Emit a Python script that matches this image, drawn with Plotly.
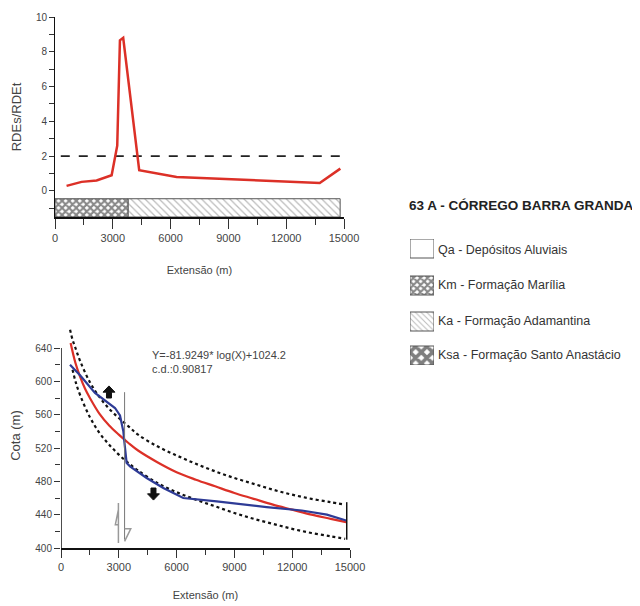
import plotly.graph_objects as go

# --- top panel: RDEs/RDEt along the channel
ext_rde = [600, 1380, 2160, 2940, 3230, 3370, 3540, 4370, 6310, 13740, 14810]
rde_ratio = [0.29, 0.52, 0.60, 0.90, 2.6, 8.66, 8.8, 1.19, 0.80, 0.46, 1.28]
threshold = 2
threshold_span = [300, 15000]

geo_units = ["Km", "Ka"]
geo_start = [0, 3800]
geo_end = [3800, 14800]

# --- bottom panel: longitudinal profile
ext_prof = [467, 1000, 1764, 2500, 2803, 3062, 3235, 3300, 3408, 3581, 4446,
            5311, 6347, 8079, 10675, 12500, 13800, 14800]
cota_prof = [620, 607, 586, 574, 568, 559, 540, 525, 502, 498, 484,
             472, 460, 456, 449, 445, 440, 433]

ext_fit = [500, 750, 1000, 1250, 1500, 2000, 2500, 3000, 3500, 4000, 5000,
           6000, 7000, 8000, 9000, 10000, 11000, 12000, 13000, 14000, 14800]
cota_fit = [646, 622, 605, 591, 580, 561, 547, 536, 526, 517, 503,
            491, 482, 474, 466, 459, 452, 446, 440, 435, 431]

ext_up = [470, 600, 750, 1000, 1500, 2000, 2500, 3000, 3500, 4000, 5000,
          6000, 7000, 8000, 9000, 10000, 11000, 12000, 13000, 14000, 14750]
cota_up = [662, 650, 640, 624, 599, 581, 567, 556, 546, 536, 522,
           511, 501, 492, 484, 477, 470, 464, 459, 455, 452]

ext_low = [600, 750, 1000, 1500, 2000, 2500, 3000, 3500, 4000, 5000,
           6000, 7000, 8000, 9000, 10000, 11000, 12000, 13000, 14000, 14750]
cota_low = [614, 600, 583, 557, 538, 524, 512, 502, 493, 478,
            467, 458, 450, 442, 435, 429, 423, 418, 414, 411]

fault_x = 3300
fault_cota = [410, 587]
end_x = 14830
end_cota = [410, 455]

legend_labels = ["Qa - Depósitos Aluviais", "Km - Formação Marília",
                 "Ka - Formação Adamantina", "Ksa - Formação Santo Anastácio"]

FONT = "Arial, Liberation Sans, sans-serif"
RED = "#dc3027"
BLUE = "#2e3b96"

# the page body adds an 8px margin, so size the figure to fit the window
W, H, OFF = 632, 598, 8


def px(x):
    return (x - OFF) / W


def py(y):
    return 1 - (y - OFF) / H


fig = go.Figure()

# geology strip under the RDE curve
patterns = {
    "Km": dict(shape="x", fgcolor="#111", bgcolor="white", size=5, solidity=0.65),
    "Ka": dict(shape="\\", fgcolor="#777", bgcolor="white", size=5, solidity=0.25),
}
for u, s, e in zip(geo_units, geo_start, geo_end):
    fig.add_trace(go.Bar(
        y=[-0.975], x=[e - s], base=[s], orientation="h", width=1.05,
        marker=dict(color="white", line=dict(color="#555", width=1), pattern=patterns[u]),
        xaxis="x", yaxis="y", showlegend=False, hoverinfo="skip"
    ))

fig.add_trace(go.Scatter(
    x=threshold_span, y=[threshold, threshold], mode="lines",
    line=dict(color="#222", width=1.6, dash="dash"),
    xaxis="x", yaxis="y", showlegend=False
))
fig.add_trace(go.Scatter(
    x=ext_rde, y=rde_ratio, mode="lines",
    line=dict(color=RED, width=2.5),
    xaxis="x", yaxis="y", showlegend=False
))

# profile panel
for xs, ys in [(ext_up, cota_up), (ext_low, cota_low)]:
    fig.add_trace(go.Scatter(
        x=xs, y=ys, mode="lines", line=dict(color="#111", width=2.2, dash="dot"),
        line_shape="spline", xaxis="x2", yaxis="y2", showlegend=False
    ))
fig.add_trace(go.Scatter(
    x=ext_fit, y=cota_fit, mode="lines", line=dict(color=RED, width=2.2),
    line_shape="spline", xaxis="x2", yaxis="y2", showlegend=False
))
fig.add_trace(go.Scatter(
    x=ext_prof, y=cota_prof, mode="lines", line=dict(color=BLUE, width=2.2),
    xaxis="x2", yaxis="y2", showlegend=False
))
fig.add_trace(go.Scatter(
    x=[fault_x, fault_x], y=fault_cota, mode="lines", line=dict(color="#777", width=1),
    xaxis="x2", yaxis="y2", showlegend=False
))
fig.add_trace(go.Scatter(
    x=[end_x, end_x], y=end_cota, mode="lines", line=dict(color="#111", width=1.5),
    xaxis="x2", yaxis="y2", showlegend=False
))
# y axis line of profile only up to 640
fig.add_trace(go.Scatter(
    x=[0, 0], y=[400, 640], mode="lines", line=dict(color="#111", width=1.5),
    xaxis="x2", yaxis="y2", showlegend=False, cliponaxis=False
))

# legend swatches (own hidden axis, pixel-like units)
sw_pat = [
    None,
    dict(shape="x", fgcolor="#111", bgcolor="white", size=5, solidity=0.65),
    dict(shape="\\", fgcolor="#777", bgcolor="white", size=4, solidity=0.25),
    dict(shape="x", fgcolor="#000", bgcolor="white", size=8, solidity=0.7),
]
sw_top = [0, 37, 73, 107]
for top, pat in zip(sw_top, sw_pat):
    fig.add_trace(go.Scatter(
        x=[0, 24, 24, 0, 0], y=[top, top, top + 19, top + 19, top],
        mode="lines", fill="toself", fillcolor="white",
        fillpattern=pat if pat else None,
        line=dict(color="#555", width=1),
        xaxis="x3", yaxis="y3", showlegend=False, hoverinfo="skip"
    ))

tick_font = dict(family=FONT, size=10, color="#444")
xtick_font = dict(family=FONT, size=11, color="#444")
x_ticks = [0, 3000, 6000, 9000, 12000, 15000]
x_minor = [1500, 4500, 7500, 10500, 13500]


def base_axis(**kw):
    d = dict(showgrid=False, zeroline=False, showline=True, linecolor="#111",
             ticks="outside", tickcolor="#333", automargin=False)
    d.update(kw)
    return d


fig.update_layout(
    width=W, height=H,
    margin=dict(l=0, r=0, t=0, b=0),
    paper_bgcolor="white", plot_bgcolor="white",
    font=dict(family=FONT, color="#333"),
    barmode="overlay",
    xaxis=base_axis(domain=[px(55), px(344)], anchor="y", range=[0, 15000],
                    tickvals=x_ticks, tickformat="d", ticklen=10, linewidth=2,
                    tickfont=xtick_font,
                    minor=dict(tickvals=x_minor, ticks="outside", ticklen=6, tickcolor="#333"),
                    title=dict(text="Extensão (m)", font=dict(size=11, color="#444"), standoff=23)),
    yaxis=base_axis(domain=[py(217), py(17)], anchor="x", range=[-1.5, 10],
                    tickvals=[0, 2, 4, 6, 8, 10], ticklen=5, linewidth=1, tickfont=tick_font,
                    minor=dict(tickvals=[-1, 1, 3, 5, 7, 9], ticks="outside", ticklen=5,
                               tickcolor="#333"),
                    title=dict(text="RDEs/RDEt", font=dict(size=13, color="#444"), standoff=11)),
    xaxis2=base_axis(domain=[px(61), px(350)], anchor="y2", range=[0, 15000],
                     tickvals=x_ticks, tickformat="d", ticklen=8, linewidth=2,
                     tickfont=xtick_font,
                     minor=dict(tickvals=x_minor, ticks="outside", ticklen=5, tickcolor="#333"),
                     title=dict(text="Extensão (m)", font=dict(size=11, color="#444"), standoff=19)),
    yaxis2=base_axis(domain=[py(548), py(323)], anchor="x2", range=[400, 670], showline=False,
                     tickvals=[400, 440, 480, 520, 560, 600, 640], ticklen=6, tickfont=tick_font,
                     minor=dict(tickvals=[420, 460, 500, 540, 580, 620], ticks="outside",
                                ticklen=5, tickcolor="#333"),
                     title=dict(text="Cota (m)", font=dict(size=13, color="#444"), standoff=24)),
    xaxis3=dict(domain=[px(410), px(434)], anchor="y3", range=[0, 24], visible=False),
    yaxis3=dict(domain=[py(365), py(239)], anchor="x3", range=[126, 0], visible=False),
)

# fault symbol next to the knickpoint
fig.add_shape(type="path", xref="x2", yref="y2",
              path="M 2980,454 L 2980,406 M 2980,446 L 2820,428 L 2980,428",
              line=dict(color="#999", width=1.5))
fig.add_shape(type="path", xref="x2", yref="y2",
              path="M 3300,408 L 3620,423 L 3300,423",
              line=dict(color="#999", width=1.5))

# block arrows (uplift / subsidence sides)
fig.add_shape(type="path", xref="x2", yref="y2", fillcolor="#111", line=dict(color="#111", width=1),
              path="M 2490,594.5 L 2800,587 L 2620,587 L 2620,580 L 2360,580 L 2360,587 L 2180,587 Z")
fig.add_shape(type="path", xref="x2", yref="y2", fillcolor="#111", line=dict(color="#111", width=1),
              path="M 4800,457.5 L 5110,465 L 4930,465 L 4930,472 L 4670,472 L 4670,465 L 4490,465 Z")

annotations = [
    dict(text="<b>63 A - CÓRREGO BARRA GRANDA</b>", x=px(407), y=py(205),
         xref="paper", yref="paper", xanchor="left", yanchor="middle", showarrow=False,
         font=dict(size=13.5, color="#222")),
    dict(text="Y=-81.9249* log(X)+1024.2<br>c.d.:0.90817", x=4600, y=623,
         xref="x2", yref="y2", xanchor="left", yanchor="middle", align="left",
         showarrow=False, font=dict(size=11, color="#444")),
]
label_y = [250, 285, 321, 355]
for lab, ly in zip(legend_labels, label_y):
    annotations.append(dict(text=lab, x=px(436), y=py(ly), xref="paper", yref="paper",
                            xanchor="left", yanchor="middle", showarrow=False,
                            font=dict(size=12.5, color="#333")))
fig.update_layout(annotations=annotations)

fig.write_html("out.html")
